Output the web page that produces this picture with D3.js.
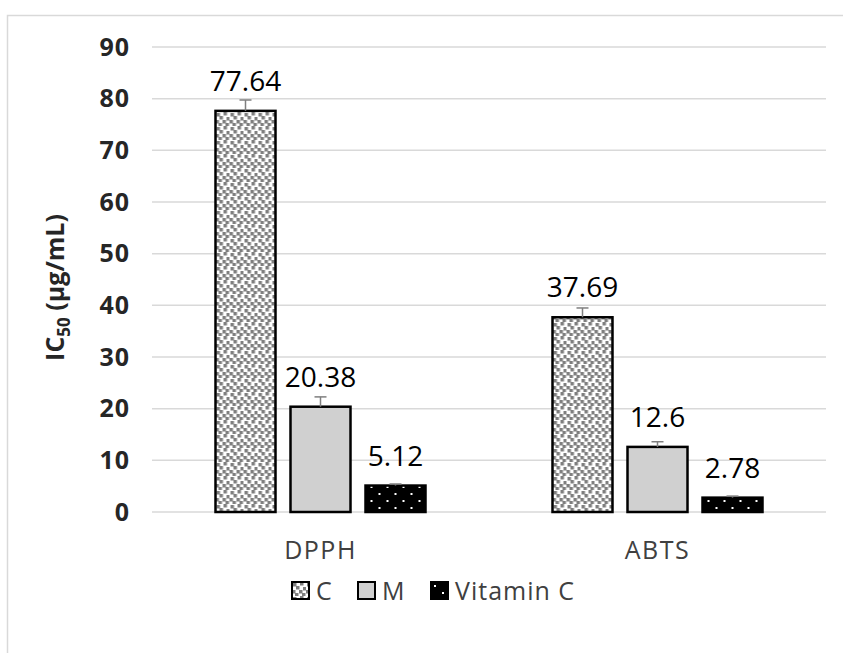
<!DOCTYPE html>
<html>
<head>
<meta charset="utf-8">
<script src="https://cdn.jsdelivr.net/npm/d3@7/dist/d3.min.js"></script>
<style>
  body { margin: 0; background: #fff; }
  svg { display: block; font-family: "Open Sans", Lato, sans-serif; }
</style>
</head>
<body>
<svg id="chart" width="843" height="653"></svg>
<script>
const categories = ['DPPH', 'ABTS']
const series = ['C', 'M', 'Vitamin C']
const values = {
    'C': [77.64, 37.69],
    'M': [20.38, 12.6],
    'Vitamin C': [5.12, 2.78],
}
const errors = {
    'C': [2.1, 1.8],
    'M': [1.9, 1.0],
    'Vitamin C': [0.3, 0.3],
}
const labels = {
    'C': ['77.64', '37.69'],
    'M': ['20.38', '12.6'],
    'Vitamin C': ['5.12', '2.78'],
}
const yTicks = [0, 10, 20, 30, 40, 50, 60, 70, 80, 90]

const plot = { left: 152, right: 826, top: 47, bottom: 512 }
const fontFam = '"Open Sans", Lato, sans-serif'

let svg = d3.select('#chart')

// 图案定义
let defs = svg.append('defs')
let patC = defs.append('pattern')
               .attr('id', 'pat-c')
               .attr('patternUnits', 'userSpaceOnUse')
               .attr('width', 14)
               .attr('height', 14)
patC.append('rect').attr('width', 14).attr('height', 14).attr('fill', 'white')
const cSquares = [[1, 1], [8, 0], [4, 4], [11, 5], [0, 8], [7, 8], [3, 11], [10, 11]]
cSquares.forEach(p => {
    patC.append('rect').attr('x', p[0]).attr('y', p[1]).attr('width', 3.5).attr('height', 3.5).attr('fill', '#7f7f7f')
})
let patV = defs.append('pattern')
               .attr('id', 'pat-v')
               .attr('patternUnits', 'userSpaceOnUse')
               .attr('width', 16)
               .attr('height', 14)
patV.append('rect').attr('width', 16).attr('height', 14).attr('fill', 'black')
patV.append('rect').attr('x', 3).attr('y', 3).attr('width', 2).attr('height', 2).attr('fill', 'white')
patV.append('rect').attr('x', 11).attr('y', 10).attr('width', 2).attr('height', 2).attr('fill', 'white')

const fills = { 'C': 'url(#pat-c)', 'M': '#d0d0d0', 'Vitamin C': 'url(#pat-v)' }

// 外框
svg.append('rect')
   .attr('x', 7.5).attr('y', 15.5)
   .attr('width', 900).attr('height', 700)
   .attr('fill', 'none')
   .attr('stroke', '#d9d9d9')
   .attr('stroke-width', 1.5)

const y = d3.scaleLinear().domain([0, 90]).range([plot.bottom, plot.top])
const x0 = d3.scaleBand().domain(categories).range([plot.left, plot.right]).paddingInner(0).paddingOuter(0)
const barW = 60, barGap = 15
const groupW = series.length * barW + (series.length - 1) * barGap
const x1 = d3.scaleBand().domain(series).range([0, groupW]).paddingInner(barGap / (barW + barGap)).paddingOuter(0)

// 网格线
svg.append('g')
   .selectAll('line')
   .data(yTicks)
   .join('line')
   .attr('x1', plot.left)
   .attr('x2', plot.right)
   .attr('y1', d => y(d))
   .attr('y2', d => y(d))
   .attr('stroke', '#d9d9d9')
   .attr('stroke-width', 1.5)

// y轴
let yAxis = svg.append('g')
               .attr('transform', `translate(${plot.left - 22},0)`)
               .call(d3.axisLeft(y).tickValues(yTicks).tickSize(0).tickPadding(0))
yAxis.select('.domain').remove()
yAxis.selectAll('text')
     .attr('font-size', 25)
     .attr('font-weight', 'bold')
     .attr('letter-spacing', 1)
     .attr('fill', '#262626')
     .attr('font-family', fontFam)

// y轴标题
let yTitle = svg.append('text')
                .attr('transform', `translate(64,${(plot.top + plot.bottom) / 2 + 8}) rotate(-90)`)
                .attr('text-anchor', 'middle')
                .attr('font-size', 25)
                .attr('font-weight', 'bold')
                .attr('fill', '#262626')
yTitle.append('tspan').text('IC')
yTitle.append('tspan').text('50').attr('font-size', 17).attr('dy', 6)
yTitle.append('tspan').text(' (µg/mL)').attr('dy', -6)

// 柱
let groups = svg.append('g')
                .selectAll('g')
                .data(categories)
                .join('g')
                .attr('transform', d => `translate(${x0(d) + (x0.bandwidth() - groupW) / 2},0)`)

series.forEach(s => {
    groups.append('rect')
          .attr('x', x1(s))
          .attr('y', (d, i) => y(values[s][i]))
          .attr('width', x1.bandwidth())
          .attr('height', (d, i) => plot.bottom - y(values[s][i]))
          .attr('fill', fills[s])
          .attr('stroke', 'black')
          .attr('stroke-width', 2.5)
    // 误差线
    groups.append('line')
          .attr('x1', x1(s) + x1.bandwidth() / 2)
          .attr('x2', x1(s) + x1.bandwidth() / 2)
          .attr('y1', (d, i) => y(values[s][i]))
          .attr('y2', (d, i) => y(values[s][i] + errors[s][i]))
          .attr('stroke', '#7f7f7f')
          .attr('stroke-width', 1.5)
    groups.append('line')
          .attr('x1', x1(s) + x1.bandwidth() / 2 - 6)
          .attr('x2', x1(s) + x1.bandwidth() / 2 + 6)
          .attr('y1', (d, i) => y(values[s][i] + errors[s][i]))
          .attr('y2', (d, i) => y(values[s][i] + errors[s][i]))
          .attr('stroke', '#7f7f7f')
          .attr('stroke-width', 1.5)
    groups.append('text')
          .attr('x', x1(s) + x1.bandwidth() / 2)
          .attr('y', (d, i) => y(values[s][i]) - 20)
          .attr('text-anchor', 'middle')
          .attr('font-size', 28)
          .attr('fill', 'black')
          .text((d, i) => labels[s][i])
})

// x轴标签
svg.append('g')
   .selectAll('text')
   .data(categories)
   .join('text')
   .attr('x', d => x0(d) + x0.bandwidth() / 2)
   .attr('y', 559)
   .attr('text-anchor', 'middle')
   .attr('font-size', 25)
   .attr('letter-spacing', 1.5)
   .attr('fill', '#404040')
   .text(d => d)

// 图例
const legendItems = [
    { name: 'C', x: 292 },
    { name: 'M', x: 358 },
    { name: 'Vitamin C', x: 431 },
]
let legend = svg.append('g')
                .selectAll('g')
                .data(legendItems)
                .join('g')
                .attr('transform', d => `translate(${d.x},582)`)
legend.append('rect')
      .attr('x', 0).attr('y', 0)
      .attr('width', 17).attr('height', 17)
      .attr('fill', d => fills[d.name])
      .attr('stroke', 'black')
      .attr('stroke-width', 2)
legend.append('text')
      .attr('x', 24)
      .attr('y', 18)
      .attr('font-size', 25)
      .attr('letter-spacing', 1)
      .attr('fill', '#404040')
      .text(d => d.name)
</script>
</body>
</html>
